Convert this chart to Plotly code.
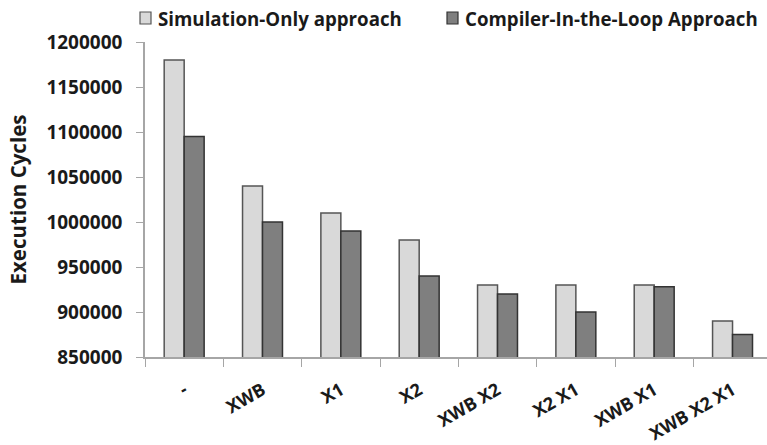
import plotly.graph_objects as go

categories = ["-", "XWB", "X1", "X2", "XWB X2", "X2 X1", "XWB X1", "XWB X2 X1"]
simulation_only = [1180000, 1040000, 1010000, 980000, 930000, 930000, 930000, 890000]
compiler_in_loop = [1095000, 1000000, 990000, 940000, 920000, 900000, 928000, 875000]
y_ticks = [850000, 900000, 950000, 1000000, 1050000, 1100000, 1150000, 1200000]

series_names = ["Simulation-Only approach", "Compiler-In-the-Loop Approach"]
fill_colors = ["#d9d9d9", "#7f7f7f"]
edge_colors = ["#555555", "#333333"]

FONT = "Open Sans"
TXT = "#1a1a1a"
W, H = 767, 445
M_L, M_R, M_T, M_B = 145, 0, 42, 88


def px_to_paper_x(px):
    return (px - M_L) / (W - M_L - M_R)


def px_to_paper_y(py):
    return (H - M_B - py) / (H - M_T - M_B)


fig = go.Figure()
for name, vals, fc, ec in zip(series_names, [simulation_only, compiler_in_loop],
                              fill_colors, edge_colors):
    fig.add_trace(go.Bar(
        name=name, x=categories, y=vals, showlegend=False,
        marker=dict(color=fc, line=dict(color=ec, width=1.5)),
    ))

# legend drawn along the top edge: swatch + label per series
legend_left_px = [140, 447]
shapes, annotations = [], []
for name, fc, ec, lx in zip(series_names, fill_colors, edge_colors, legend_left_px):
    shapes.append(dict(
        type="rect", xref="paper", yref="paper",
        x0=px_to_paper_x(lx), x1=px_to_paper_x(lx + 11),
        y0=px_to_paper_y(24), y1=px_to_paper_y(12),
        fillcolor=fc, line=dict(color=ec, width=1.2),
    ))
    annotations.append(dict(
        text=name, xref="paper", yref="paper",
        x=px_to_paper_x(lx + 16), y=px_to_paper_y(18),
        xanchor="left", yanchor="middle", showarrow=False,
        font=dict(family=FONT, size=18.7, color=TXT, weight="bold"),
    ))

fig.update_layout(
    width=W, height=H,
    margin=dict(l=M_L, r=M_R, t=M_T, b=M_B, autoexpand=False),
    paper_bgcolor="white", plot_bgcolor="white",
    barmode="group", bargap=0.49, bargroupgap=0,
    showlegend=False,
    shapes=shapes, annotations=annotations,
    font=dict(family=FONT, size=16, color=TXT, weight="bold"),
    xaxis=dict(
        range=[-0.5, 7.44], tickangle=-30, tickson="boundaries",
        ticks="outside", ticklen=8, tickcolor="#a6a6a6", ticklabelstandoff=14,
        showline=True, linecolor="#a6a6a6", linewidth=1.5,
        showgrid=False, tickfont=dict(family=FONT, size=18, color=TXT, weight="bold"),
    ),
    yaxis=dict(
        range=[850000, 1200000], tickvals=y_ticks,
        ticktext=[str(v) for v in y_ticks],
        ticks="outside", ticklen=7, tickcolor="#a6a6a6", ticklabelstandoff=10,
        showline=True, linecolor="#a6a6a6", linewidth=1.5,
        showgrid=False, zeroline=False,
        tickfont=dict(family=FONT, size=19, color=TXT, weight="bold"),
        title=dict(text="Execution Cycles", standoff=14,
                   font=dict(family=FONT, size=20.5, color=TXT, weight="bold")),
    ),
)

fig.write_html("out.html")
